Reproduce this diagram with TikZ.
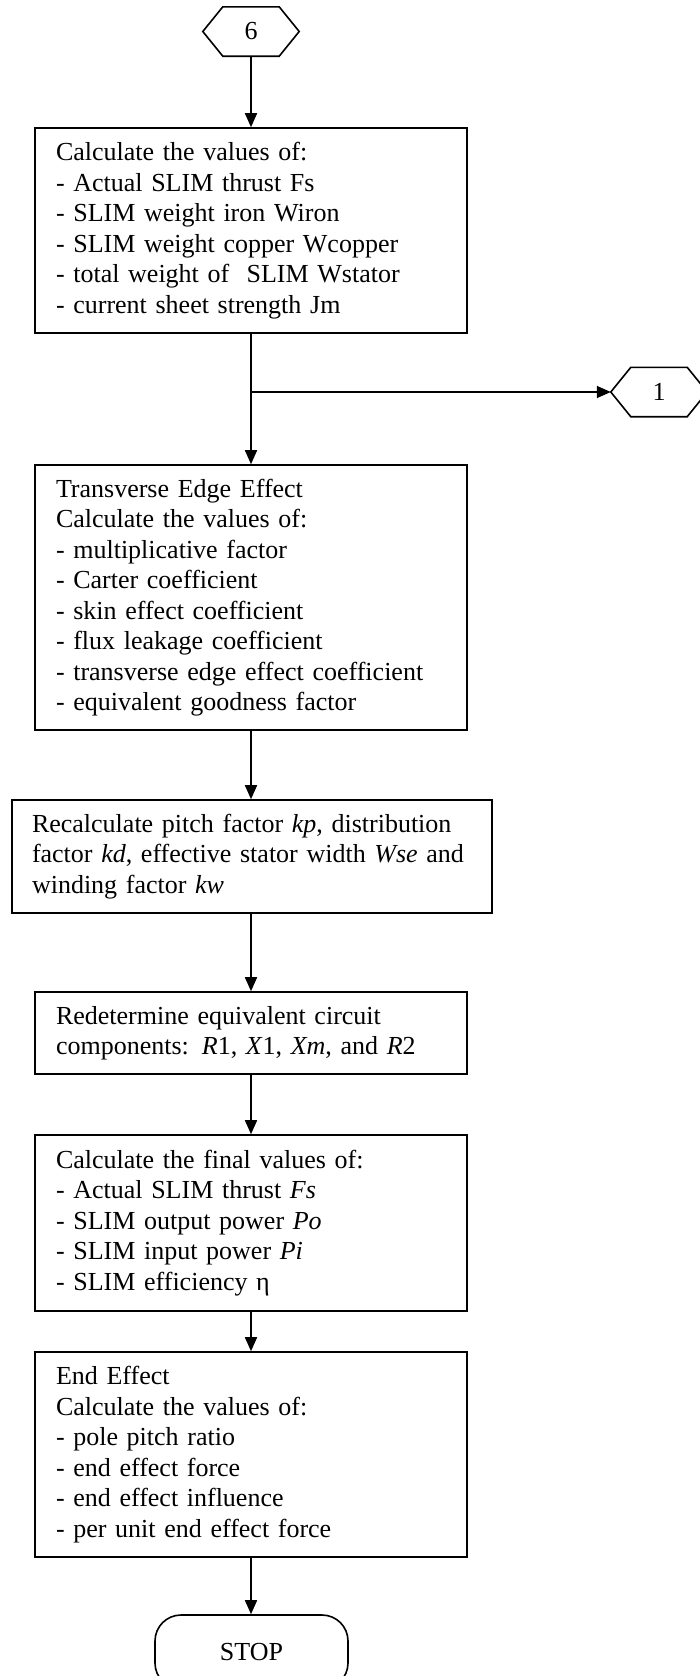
\documentclass[tikz,border=0pt]{standalone}
\usepackage{fontspec}
\setmainfont{Liberation Serif}
\usetikzlibrary{arrows.meta}

\newlength{\du}
\setlength{\du}{1pt}

\tikzset{
  stepbox/.style={draw, rectangle, line width=1.6\du, align=left,
    inner xsep=21\du, text width=390\du,
    font=\fontsize{26}{30.5}\selectfont},
  connector/.style={rectangle, minimum width=96\du, minimum height=49\du,
    inner sep=0pt, font=\fontsize{26}{30.5}\selectfont},
  flow/.style={line width=1.6\du, -{Triangle[length=14pt,width=12pt]}},
  hexline/.style={line width=1.6\du, line join=miter},
}

\begin{document}
\begin{tikzpicture}
\pgftransformyscale{-1.000000}
\useasboundingbox (0\du,0\du) rectangle (699\du,1676\du);
% off-page connectors
\node[connector] (hexsix) at (251\du,31.5\du){6};
\draw[hexline] (hexsix.west)--([xshift=20\du]hexsix.north west)--([xshift=-20\du]hexsix.north east)--(hexsix.east)--([xshift=-20\du]hexsix.south east)--([xshift=20\du]hexsix.south west)--cycle;
\node[connector] (hexone) at (659\du,392\du){1};
\draw[hexline] (hexone.west)--([xshift=20\du]hexone.north west)--([xshift=-20\du]hexone.north east)--(hexone.east)--([xshift=-20\du]hexone.south east)--([xshift=20\du]hexone.south west)--cycle;
% process boxes
\node[stepbox, minimum height=205\du] (thrust) at (251\du,230.5\du){Calculate the values of:\\
- Actual SLIM thrust Fs\\
- SLIM weight iron Wiron\\
- SLIM weight copper Wcopper\\
- total weight of~ SLIM Wstator\\
- current sheet strength Jm};
\node[stepbox, minimum height=265\du] (transverse) at (251\du,597.5\du){Transverse Edge Effect\\
Calculate the values of:\\
- multiplicative factor\\
- Carter coefficient\\
- skin effect coefficient\\
- flux leakage coefficient\\
- transverse edge effect coefficient\\
- equivalent goodness factor};
\node[stepbox, minimum height=113\du, inner xsep=20\du, text width=440\du] (pitch) at (252\du,856.5\du){Recalculate pitch factor \textit{kp}, distribution\\
factor \textit{kd}, effective stator width \textit{Wse} and\\
winding factor \textit{kw}};
\node[stepbox, minimum height=82\du] (circuit) at (251\du,1033\du){Redetermine equivalent circuit\\
components: \textit{R}1, \textit{X}1, \textit{Xm}, and \textit{R}2};
\node[stepbox, minimum height=176\du] (final) at (251\du,1223\du){Calculate the final values of:\\
- Actual SLIM thrust \textit{Fs}\\
- SLIM output power \textit{Po}\\
- SLIM input power \textit{Pi}\\
- SLIM efficiency η};
\node[stepbox, minimum height=205\du] (endeffect) at (251\du,1454.5\du){End Effect\\
Calculate the values of:\\
- pole pitch ratio\\
- end effect force\\
- end effect influence\\
- per unit end effect force};
\node[draw, rectangle, rounded corners=26\du, line width=1.6\du, minimum width=193\du, minimum height=74\du, font=\fontsize{26}{30.5}\selectfont] (stop) at (251.5\du,1652\du){STOP};
% connectors
\coordinate (split) at (thrust.south |- hexone.west);
\draw[flow] (hexsix) -- (thrust);
\draw[flow] (thrust) -- (transverse);
\draw[flow] (split) -- (hexone);
\draw[flow] (transverse.south) -- (transverse.south |- pitch.north);
\draw[flow] (pitch.south -| circuit.north) -- (circuit.north);
\draw[flow] (circuit) -- (final);
\draw[flow] (final) -- (endeffect);
\draw[flow] (endeffect.south) -- (endeffect.south |- stop.north);
\end{tikzpicture}
\end{document}
